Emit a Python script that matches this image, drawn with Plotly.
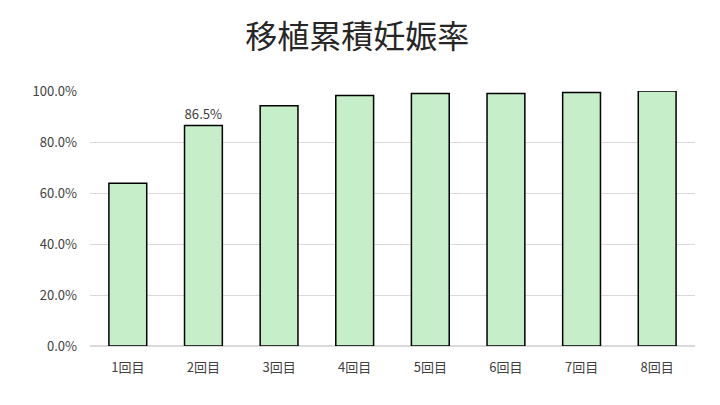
import plotly.graph_objects as go

categories = ['1回目', '2回目', '3回目', '4回目', '5回目', '6回目', '7回目', '8回目']
rates = [0.638, 0.865, 0.942, 0.982, 0.990, 0.990, 0.994, 1.000]
labels = ['', '86.5%', '', '', '', '', '', '']

font_jp = 'Noto Sans CJK JP'

fig = go.Figure(go.Bar(
    x=categories,
    y=rates,
    text=labels,
    textposition='outside',
    textfont=dict(size=14, color='#404040', family=font_jp),
    cliponaxis=False,
    marker=dict(color='#c6efc9', line=dict(color='black', width=1.5)),
))

fig.update_layout(
    width=720, height=405,
    margin=dict(l=82, r=33, t=83, b=67, autoexpand=False),
    paper_bgcolor='white',
    plot_bgcolor='white',
    bargap=0.5,
    showlegend=False,
    font=dict(family=font_jp, color='#595959'),
    title=dict(text='移植累積妊娠率', x=0.485, xanchor='center', y=0.93, yanchor='middle',
               font=dict(size=32, color='#262626', family=font_jp)),
)
fig.update_yaxes(range=[0, 1], tickformat='.1%', dtick=0.2, showgrid=True,
                 gridcolor='#d9d9d9', gridwidth=1, zeroline=True, zerolinecolor='#d9d9d9',
                 tickfont=dict(size=13, color='#404040'), ticks='', showline=False,
                 ticklabelstandoff=12)
fig.update_xaxes(tickfont=dict(size=13, color='#404040'), ticks='', showline=False,
                 ticklabelstandoff=12)

fig.write_html('out.html')
